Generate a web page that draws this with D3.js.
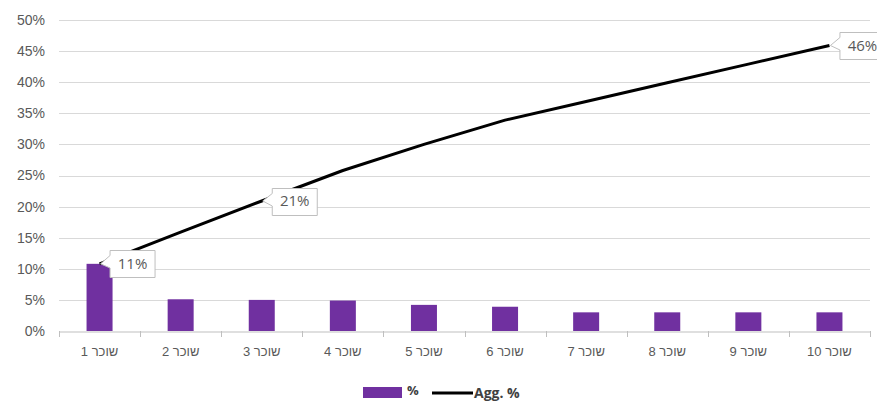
<!DOCTYPE html>
<html>
<head>
<meta charset="utf-8">
<script src="https://cdn.jsdelivr.net/npm/d3@7"></script>
<style>
  body { margin: 0; background: #fff; }
  svg { display: block; font-family: "Open Sans", "Noto Sans", sans-serif; }
</style>
</head>
<body>
<svg id="chart" width="877" height="401"></svg>
<script>
// tenants (Hebrew labels)
const categories = ['שוכר 1', 'שוכר 2', 'שוכר 3', 'שוכר 4', 'שוכר 5',
  'שוכר 6', 'שוכר 7', 'שוכר 8', 'שוכר 9', 'שוכר 10'];
// share of each tenant, %
const pctValues = [10.8, 5.1, 5.0, 4.9, 4.2, 3.9, 3.0, 3.0, 3.0, 3.0];
// cumulative share, %
const aggValues = [10.8, 15.9, 20.9, 25.8, 30.0, 33.9, 36.9, 39.9, 42.9, 45.9];
const yTicks = [0, 5, 10, 15, 20, 25, 30, 35, 40, 45, 50];
// points that carry a data label
const labelled = [0, 2, 9];

const margin = { top: 20, right: 7, bottom: 70, left: 59 };
const width = 877, height = 401;

const svg = d3.select('#chart');

const x = d3.scaleBand()
  .domain(categories)
  .range([margin.left, width - margin.right]);

const y = d3.scaleLinear()
  .domain([0, 50])
  .range([height - margin.bottom, margin.top]);

// grid
svg.append('g')
  .selectAll('line')
  .data(yTicks.filter(d => d > 0))
  .join('line')
  .attr('x1', margin.left)
  .attr('x2', width - margin.right)
  .attr('y1', d => Math.round(y(d)) + 0.5)
  .attr('y2', d => Math.round(y(d)) + 0.5)
  .attr('stroke', '#d9d9d9')
  .attr('stroke-width', 1);

// y axis labels
const yAxis = svg.append('g')
  .attr('transform', `translate(${margin.left},0)`)
  .call(d3.axisLeft(y).tickValues(yTicks).tickFormat(d => d + '%').tickSize(0).tickPadding(14));
yAxis.select('.domain').remove();
yAxis.selectAll('text')
  .attr('fill', '#595959')
  .style('font-size', '14px')
  .attr('font-family', null);

// bars
const barW = 26;
svg.append('g')
  .selectAll('rect')
  .data(pctValues)
  .join('rect')
  .attr('x', (d, i) => x(categories[i]) + x.bandwidth() / 2 - barW / 2)
  .attr('y', d => y(d))
  .attr('width', barW)
  .attr('height', d => y(0) - y(d))
  .attr('fill', '#7030a0');

// x axis
const xAxis = svg.append('g')
  .attr('transform', `translate(0,${Math.round(y(0)) + 0.5})`)
  .call(d3.axisBottom(x).tickSize(0).tickPadding(15));
xAxis.select('.domain')
  .attr('stroke', '#bfbfbf');
xAxis.selectAll('text')
  .attr('fill', '#595959')
  .attr('direction', 'rtl')
  .style('font-size', '13px')
  .attr('font-family', null);

// ticks at band boundaries
const bounds = categories.map(c => x(c)).concat([x.range()[1]]);
svg.append('g')
  .selectAll('line')
  .data(bounds)
  .join('line')
  .attr('x1', d => Math.round(d) + 0.5)
  .attr('x2', d => Math.round(d) + 0.5)
  .attr('y1', y(0))
  .attr('y2', y(0) + 6)
  .attr('stroke', '#bfbfbf');

// cumulative line
const line = d3.line()
  .x((d, i) => x(categories[i]) + x.bandwidth() / 2)
  .y(d => y(d));

svg.append('path')
  .datum(aggValues)
  .attr('d', line)
  .attr('fill', 'none')
  .attr('stroke', '#000')
  .attr('stroke-width', 3)
  .attr('stroke-linejoin', 'round');

// data label callouts
const boxW = 45, boxH = 27;
const callouts = svg.append('g')
  .selectAll('g')
  .data(labelled)
  .join('g');

callouts.append('path')
  .attr('d', i => {
    let px = x(categories[i]) + x.bandwidth() / 2;
    let py = y(aggValues[i]);
    let bx = px + 10.5, by = Math.round(py - boxH / 2) + 0.5;
    return `M${bx},${by}H${bx + boxW}V${by + boxH}H${bx}V${by + boxH / 2 + 4}L${px + 1},${py}L${bx},${by + 5}Z`;
  })
  .attr('fill', '#fff')
  .attr('stroke', '#bfbfbf');

callouts.append('text')
  .attr('x', i => x(categories[i]) + x.bandwidth() / 2 + 10.5 + boxW / 2)
  .attr('y', i => y(aggValues[i]) + 5)
  .attr('text-anchor', 'middle')
  .attr('fill', '#595959')
  .style('font-size', '15px')
  .text(i => Math.round(aggValues[i]) + '%');

// legend
const legend = svg.append('g');
legend.append('rect')
  .attr('x', 363)
  .attr('y', 387)
  .attr('width', 39)
  .attr('height', 11)
  .attr('fill', '#7030a0');
legend.append('text')
  .attr('x', 407)
  .attr('y', 395)
  .attr('fill', '#404040')
  .attr('font-weight', 'bold')
  .style('font-size', '13px')
  .text('%');
legend.append('line')
  .attr('x1', 432)
  .attr('x2', 473)
  .attr('y1', 393)
  .attr('y2', 393)
  .attr('stroke', '#000')
  .attr('stroke-width', 3);
legend.append('text')
  .attr('x', 474)
  .attr('y', 398)
  .attr('fill', '#404040')
  .attr('font-weight', 'bold')
  .style('font-size', '14px')
  .text('Agg. %');
</script>
</body>
</html>
